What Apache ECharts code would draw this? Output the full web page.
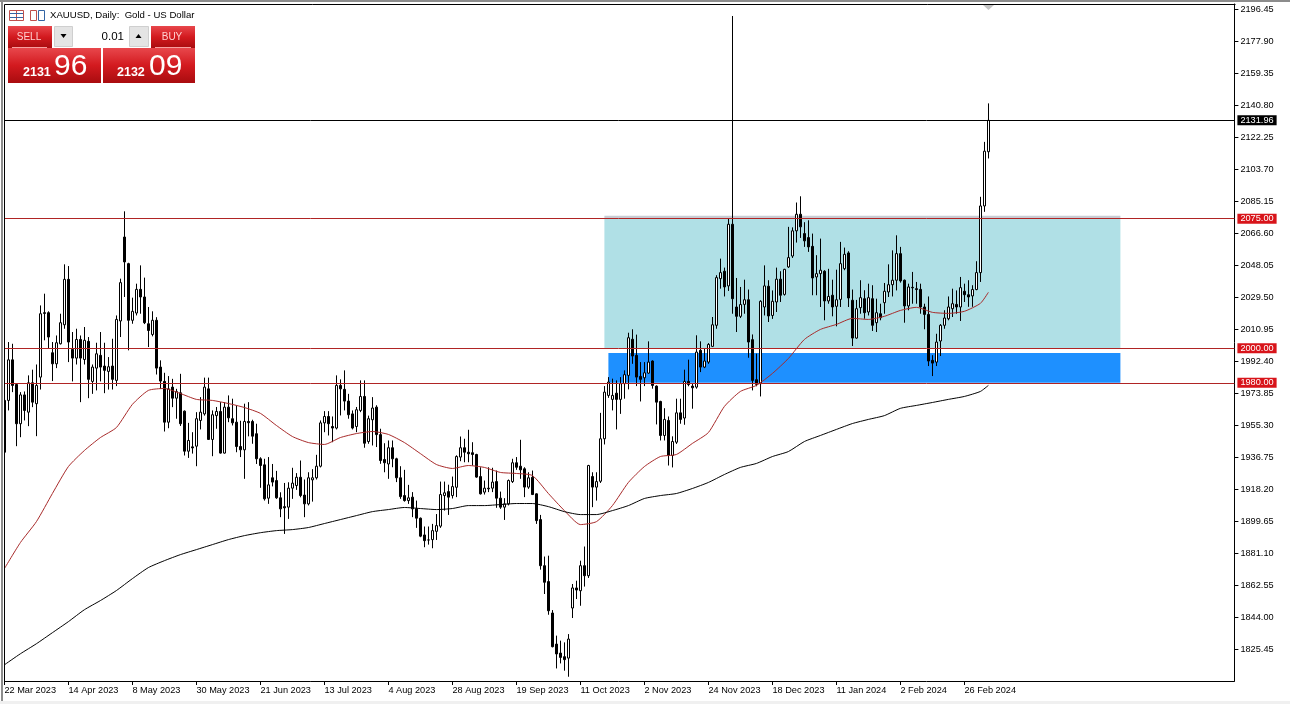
<!DOCTYPE html>
<html>
<head>
<meta charset="utf-8">
<title>XAUUSD Daily</title>
<script src="https://cdn.jsdelivr.net/npm/echarts@6/dist/echarts.min.js"></script>
<style>
  html, body { margin: 0; padding: 0; background: #fff; }
  #chart { width: 1290px; height: 704px; }
</style>
</head>
<body>
<div id="chart"></div>
<script>
// bar values, one entry per daily bar
const opens = [
  1969.8, 1969.8, 1993.3, 1979, 1956.3, 1973, 1963, 1980, 1967.9, 1983.3,
  2020.6, 2020.6, 1997.4, 1991, 2002.6, 2013.6, 2039.9, 1999.3, 1994.3, 2005.1,
  1993.5, 2004, 1980.8, 1988.5, 1995.9, 1989.7, 1986.6, 1989.7, 1981.4, 2015.8,
  2064.4, 2049, 2016.2, 2020.4, 2034.1, 2029.7, 2014.2, 2008, 2016.2, 1989.1,
  1980.8, 1957.2, 1977.5, 1971.1, 1974.2, 1963.6, 1940.4, 1942.9, 1943.3, 1958.2,
  1962, 1976.5, 1947.2, 1961, 1963.4, 1939.3, 1965.9, 1959.2, 1957.2, 1943.1,
  1941.2, 1957.6, 1957.6, 1950.5, 1936, 1932.5, 1913.2, 1925, 1923.4, 1913.4,
  1908.3, 1908, 1919, 1920.5, 1925.3, 1915, 1909.9, 1923.8, 1925, 1931.7,
  1956.8, 1960.5, 1954.7, 1953.8, 1978.5, 1976.2, 1969.4, 1962, 1954.7, 1964,
  1972.1, 1946, 1958.6, 1965.9, 1950, 1935.6, 1933, 1942.4, 1936, 1925,
  1914.7, 1911.8, 1913.8, 1907, 1901.6, 1891.9, 1889, 1889.2, 1894, 1897,
  1914.7, 1917, 1914.7, 1919.5, 1937, 1942.4, 1939.8, 1939.5, 1938.5, 1925.7,
  1916.7, 1919, 1919, 1922.8, 1913.2, 1908, 1909.9, 1922.8, 1933.7, 1931.7,
  1930.2, 1919.6, 1925.3, 1915.7, 1900.8, 1874.1, 1864.9, 1846.7, 1828.7, 1823.5,
  1821.4, 1820.6, 1849.6, 1861.2, 1859.6, 1874.1, 1868.3, 1925.7, 1919.6, 1923,
  1947.6, 1972.7, 1970.4, 1974, 1970.4, 1979.5, 1984.3, 2005.2, 1995.9, 1983.7,
  1982.9, 1985.6, 1992.6, 1978.1, 1969.2, 1949.5, 1958.2, 1937.9, 1945.6, 1962.6,
  1959.6, 1980.8, 1978.1, 1977.5, 1998.8, 1989.1, 1992, 2001.1, 2013.3, 2040.3,
  2044.6, 2036.1, 2071.8, 2023.9, 2018.5, 2025.4, 2028.1, 2005, 1981.8, 1979.5,
  2023.9, 2035.9, 2019, 2026.8, 2040, 2031.2, 2047.1, 2053.4, 2068, 2077.6,
  2066.4, 2064.1, 2059, 2041.3, 2043.2, 2044.6, 2027.4, 2030.7, 2024.3, 2028.3,
  2046.1, 2055.2, 2027.8, 2005.9, 2023.5, 2028.7, 2021, 2028.7, 2014.8, 2020,
  2026.4, 2032.6, 2036.8, 2039.4, 2054.8, 2039.4, 2024.5, 2035.3, 2034.5, 2034.1,
  2023.9, 2019.6, 1993, 1992, 2004.2, 2013.3, 2017.1, 2022.9, 2025.4, 2023.9,
  2033, 2031, 2030.3, 2034, 2043.8, 2082.4, 2113.8
];
const closes = [
  1939.8, 1993.3, 1978.5, 1956.3, 1973, 1964, 1980, 1968.8, 1978.5, 2020,
  2020.2, 2006.5, 1991, 2003.2, 2014.8, 2039.9, 2003.6, 1994.3, 2005.1, 1994.3,
  2004.6, 1982, 1989.1, 1996.8, 1989.1, 1987.2, 1989.3, 1982, 2016.7, 2038,
  2050, 2016.2, 2021.4, 2034.1, 2029.7, 2014.8, 2010.3, 2016.2, 1988.5, 1981,
  1957.2, 1976.5, 1971.1, 1974.9, 1956.3, 1940.4, 1946.6, 1942.3, 1959.2, 1963,
  1977.5, 1947.2, 1961.5, 1963.4, 1939.3, 1965.9, 1959.7, 1956.8, 1943.1, 1941.2,
  1957.6, 1956.9, 1949.1, 1936, 1932.1, 1912.8, 1920.9, 1922.5, 1913.4, 1907,
  1907.6, 1919, 1921.9, 1925.3, 1914.7, 1909.9, 1925, 1925, 1931.7, 1956.8,
  1960.5, 1956.3, 1953.8, 1978.5, 1976.5, 1969.4, 1961.5, 1953.8, 1964.4, 1972.1,
  1945, 1959.2, 1965.4, 1950, 1935, 1933.7, 1942.4, 1936, 1925, 1914.1,
  1911.8, 1913.4, 1907, 1901.6, 1891.2, 1888.6, 1889, 1894.4, 1897.3, 1915.3,
  1916.3, 1913.8, 1919.9, 1937.3, 1942.4, 1939.8, 1938.9, 1938.5, 1925.4, 1915.7,
  1919, 1918.6, 1922.5, 1913.2, 1908, 1909.9, 1923.4, 1933.7, 1931.1, 1929.6,
  1919.6, 1925, 1915.3, 1900.2, 1874.1, 1864.5, 1848, 1827.2, 1823, 1821,
  1819.7, 1831.6, 1861.2, 1860, 1874.1, 1868.3, 1932.1, 1919.6, 1922.8, 1947.6,
  1974.6, 1980.4, 1972.7, 1970.4, 1979.5, 1984.7, 2006.1, 1995.5, 1983.3, 1982,
  1985.8, 1992, 1978.5, 1968.8, 1949.5, 1958.8, 1937.9, 1946, 1962.6, 1958.8,
  1980.8, 1979, 1977.1, 1997.8, 1989.1, 1992.6, 2002.2, 2013.6, 2040.9, 2043.8,
  2035.5, 2071.8, 2028.7, 2018.5, 2025.3, 2028.1, 2003.6, 1981.4, 1979.1, 2027.2,
  2036.1, 2018.7, 2027.2, 2040, 2030.7, 2045.7, 2052.5, 2068, 2077.6, 2070.3,
  2062.2, 2058.7, 2040.7, 2043.2, 2045.2, 2027.4, 2030, 2023.9, 2028.1, 2049,
  2054.4, 2029.1, 2005.9, 2022.9, 2029.3, 2020.6, 2029.3, 2013.3, 2020.6, 2017.7,
  2033, 2036.8, 2039.4, 2054.8, 2039, 2024.5, 2035.5, 2035, 2034, 2023.9,
  2019.6, 1992.6, 1991.4, 2003.6, 2013.3, 2017.5, 2023.9, 2025.8, 2023.9, 2035.1,
  2031, 2029.7, 2034, 2043.8, 2082.4, 2114.1, 2131.96
];
const lows = [
  1939, 1964, 1974.6, 1943.3, 1948.5, 1958.2, 1954.9, 1965.9, 1949.1, 1976.1,
  2004.6, 1999.7, 1981, 1988.5, 2002.2, 2011.3, 1992, 1980.8, 1990.6, 1968.8,
  1990.6, 1971.1, 1973.6, 1975.6, 1980.8, 1974, 1976.1, 1976.1, 1978.1, 2006.5,
  2029.7, 1998.8, 2014.2, 2019, 2020, 2014, 2000.7, 2006.9, 1984.8, 1976.5,
  1951.8, 1953.7, 1965.9, 1959.2, 1955, 1937.9, 1936.5, 1939, 1931.7, 1953,
  1961, 1947, 1937.5, 1953.4, 1939, 1939, 1957.2, 1955.3, 1939.8, 1937,
  1924.4, 1949, 1944.7, 1933, 1919.2, 1911.8, 1909.9, 1920, 1912.8, 1902.2,
  1892.5, 1901.2, 1912.8, 1918, 1913.7, 1902.2, 1909, 1911.2, 1924, 1931,
  1951.4, 1949.5, 1945.6, 1953, 1961.1, 1964, 1959.2, 1953, 1951.4, 1963,
  1942.4, 1944.7, 1943.7, 1942.8, 1933.1, 1928.2, 1924.4, 1931.1, 1922.5, 1912.8,
  1911.2, 1909.9, 1902.2, 1896, 1890.6, 1884.8, 1886.3, 1884.2, 1889, 1896,
  1906, 1903.5, 1913, 1913.8, 1934.6, 1934, 1934, 1932.1, 1925, 1915.3,
  1915.3, 1916.7, 1916.7, 1907.6, 1907, 1900.6, 1909, 1922, 1929.6, 1924.4,
  1913.8, 1918.6, 1915, 1898.3, 1871.8, 1857.7, 1845.7, 1826.8, 1814.6, 1817.5,
  1813.3, 1809.8, 1843.8, 1854.8, 1850.9, 1862, 1867, 1908, 1911.8, 1922,
  1944.3, 1971.3, 1964, 1953, 1962, 1970.8, 1976.2, 1991, 1978.1, 1969.2,
  1978.1, 1985.2, 1976.6, 1955.9, 1946.6, 1946.6, 1932.1, 1931, 1944.6, 1956.3,
  1955.7, 1978, 1965, 1976.6, 1986.2, 1988.5, 1991, 2000.7, 2011.3, 2034.5,
  2030, 2033.2, 2020, 2009.4, 2017.5, 2020, 1994.5, 1975.6, 1978, 1972.1,
  2019, 2015.2, 2017, 2021, 2026.8, 2030.5, 2046.5, 2052.3, 2061.2, 2063.9,
  2058.7, 2055.8, 2030.7, 2030.7, 2023.9, 2016.2, 2025.8, 2018.5, 2012.7, 2023.9,
  2045.2, 2023.9, 2001.3, 2005.5, 2020, 2017.1, 2019, 2010, 2009.4, 2016.2,
  2020, 2029.7, 2030, 2033.5, 2038, 2014.8, 2022, 2025.8, 2025.8, 2020,
  2011, 1989.7, 1983.9, 1989.7, 1995.5, 2011.3, 2016.2, 2018.1, 2020, 2015.8,
  2026.8, 2024, 2024, 2033.6, 2038.4, 2079, 2109.9
];
const highs = [
  1971, 2003.6, 2002.6, 1979.5, 1974.6, 1975, 1984.3, 1987.6, 1990.6, 2024.8,
  2031.6, 2021.4, 2003.6, 2007.4, 2020, 2048.6, 2047.6, 2009.4, 2011.3, 2007.4,
  2012.3, 2006.5, 1990.6, 2003.2, 2009.4, 2003.2, 1994.9, 2005.5, 2019, 2040.3,
  2079.3, 2049.5, 2029.3, 2037.4, 2048, 2040.9, 2023.9, 2021.4, 2018, 1993,
  1985.8, 1983.9, 1982.3, 1976.5, 1985.2, 1964, 1956.8, 1951.4, 1963, 1971.7,
  1983, 1983, 1964, 1966, 1968.8, 1968.8, 1972.7, 1970.8, 1966.9, 1958,
  1967.9, 1968.8, 1958.6, 1956.3, 1936.9, 1936, 1937, 1933, 1929, 1916.6,
  1922, 1922.4, 1930.8, 1927.7, 1935, 1924, 1928.2, 1930, 1938.3, 1958.2,
  1963.6, 1963.6, 1960.5, 1984.3, 1982, 1987.2, 1973.6, 1964, 1966, 1981.4,
  1981.4, 1961, 1971.7, 1967, 1953.4, 1945, 1946.6, 1946.6, 1936.6, 1931.7,
  1929.6, 1920.9, 1916.7, 1911.8, 1902, 1896.8, 1896.8, 1898.3, 1904, 1922.8,
  1922.8, 1921, 1925.7, 1938, 1948.9, 1947.6, 1952.8, 1945.6, 1938.9, 1931.1,
  1923.4, 1931.1, 1930.8, 1929.2, 1917, 1913.2, 1924, 1936, 1937, 1947,
  1931.1, 1928.2, 1929.2, 1916, 1903.5, 1879.4, 1879.9, 1848.4, 1833.6, 1830.7,
  1829.7, 1834.5, 1863.5, 1865.4, 1877, 1885.2, 1932.5, 1928.2, 1928.2, 1962.6,
  1978.1, 1983.3, 1982.4, 1981.4, 1983.3, 1987.2, 2009, 2011, 2007.9, 1992,
  1992, 2004, 1993, 1978.5, 1969.6, 1965.3, 1960.5, 1949, 1970.8, 1970.8,
  1987.6, 1993.4, 1979.5, 2007.5, 2004, 2000, 2003, 2018.1, 2042.3, 2051.9,
  2046.7, 2075.1, 2192.4, 2040.7, 2035.5, 2039.7, 2034, 2008, 1996.9, 2027.8,
  2048, 2039.4, 2033.5, 2046.7, 2044.6, 2046, 2070.3, 2070, 2084.4, 2088,
  2073, 2074.1, 2066.4, 2053.9, 2063.5, 2045.2, 2046, 2039.7, 2045.5, 2061.6,
  2058.3, 2056.2, 2034, 2028, 2039.4, 2033.6, 2037.4, 2036.5, 2028.7, 2025.8,
  2037.8, 2048.6, 2056.7, 2065.4, 2058.7, 2039.8, 2037.4, 2044.2, 2038.4, 2037.4,
  2025.8, 2030, 1996, 2008.4, 2014, 2022, 2030, 2034.5, 2033.5, 2041.3,
  2037.4, 2039.4, 2036.5, 2050.4, 2087.7, 2119.5, 2141.8
];
// moving averages (last one is the final bar)
const ma50 = [
  1872.4, 1887.5, 1899.6, 1915.9, 1931.5, 1940.8, 1948.3, 1954.1, 1967.5, 1975.6, 1976.7, 1973.8, 1970.4,
  1969.8, 1968, 1965.7, 1962.3, 1955.3, 1948.9, 1945.4, 1944.3, 1948.3, 1950.6, 1951.8, 1950.1,
  1945.4, 1939, 1932.7, 1930.4, 1932.1, 1931, 1928.1, 1927.5, 1926.3, 1915.9, 1906, 1897.9,
  1899.6, 1908.9, 1922.3, 1931.5, 1937.3, 1938.5, 1944.9, 1951.2, 1966.3, 1975, 1978.5,
  1985.4, 1994.1, 2005.1, 2010.9, 2013.8, 2017.3,
  2016.7, 2018.5, 2021.9, 2023.7, 2020.8, 2020.2, 2021.4, 2026, 2032.4
];
const ma200 = [
  1816.7, 1823.1, 1828.9, 1835.3, 1841.7, 1848.6, 1853.9, 1859.7, 1866.6, 1873, 1877, 1880.5, 1883.4,
  1886.3, 1889.2, 1891.5, 1893.2, 1894.4, 1895, 1896.2, 1898.5, 1900.8, 1903.1, 1905.4, 1906.6,
  1907.8, 1907.2, 1906.6, 1907.2, 1908.9, 1908.9, 1909.5, 1910.1, 1910.1, 1908.3, 1905.4, 1903.7,
  1903.7, 1906, 1908.9, 1913, 1914.7, 1915.9, 1918.8, 1922.3, 1926.9, 1931, 1933.3,
  1937.3, 1940.2, 1946, 1949.5, 1953, 1956.4,
  1958.8, 1961, 1965.2, 1966.9, 1968.6, 1970.4, 1972.1, 1975, 1978.5
];
const dateLabels = [
  "22 Mar 2023", "14 Apr 2023", "8 May 2023", "30 May 2023", "21 Jun 2023", "13 Jul 2023",
  "4 Aug 2023", "28 Aug 2023", "19 Sep 2023", "11 Oct 2023", "2 Nov 2023", "24 Nov 2023",
  "18 Dec 2023", "11 Jan 2024", "2 Feb 2024", "26 Feb 2024"
];
const priceTicks = [
  1825.45, 1844.0, 1862.55, 1881.1, 1899.65, 1918.2, 1936.75, 1955.3, 1973.85, 1992.4, 2010.95,
  2029.5, 2048.05, 2066.6, 2085.15, 2103.7, 2122.25, 2140.8, 2159.35, 2177.9, 2196.45
];
const levels = [2075, 2000, 1980];
const lastPrice = 2131.96;
// zones on the chart, bar index and price
const zoneUpper = { from: 150, to: 279, low: 2000, high: 2075, top: 2076.8 };
const zoneLower = { from: 151, to: 279, low: 1980, high: 1997.2 };

const BARS_ON_AXIS = 308;
const TICK_STEP = 16;

const categories = [];
for (let i = 0; i < BARS_ON_AXIS; i++) {
  categories.push(i % TICK_STEP === 0 && dateLabels[i / TICK_STEP] ? dateLabels[i / TICK_STEP] : "");
}
const candles = opens.map((o, i) => [o, closes[i], lows[i], highs[i]]);
const maPoints = (values) => values.map((v, k) => [k === values.length - 1 ? opens.length - 1 : k * 4, v]);
const hasDate = (index, value) => value !== "";

const FONT = "Liberation Sans";
const chart = echarts.init(document.getElementById("chart"));

function redBox(x, y, w, h) {
  return {
    type: "rect",
    shape: { x, y, width: w, height: h },
    style: {
      fill: new echarts.graphic.LinearGradient(0, 0, 0, 1, [
        { offset: 0, color: "#e8474c" },
        { offset: 0.5, color: "#d31a1f" },
        { offset: 1, color: "#a90c0f" },
      ]),
    },
    z: 20,
  };
}
function label(text, x, y, size, color, extra) {
  return {
    type: "text",
    x,
    y,
    z: 21,
    style: Object.assign({ text, fill: color, font: size + "px " + FONT, textVerticalAlign: "middle" }, extra || {}),
  };
}
function line(x1, y1, x2, y2, color) {
  return { type: "line", shape: { x1, y1, x2, y2 }, style: { stroke: color, lineWidth: 1 }, z: 20 };
}
function button(x, w) {
  return {
    type: "rect",
    shape: { x: x + 0.5, y: 26.5, width: w, height: 20 },
    style: { fill: "#e4e4e4", stroke: "#cfcfcf", lineWidth: 1 },
    z: 20,
  };
}

const option = {
  animation: false,
  backgroundColor: "#fff",
  grid: { left: 2.4, right: 55.6, top: 4, bottom: 23 },
  xAxis: {
    type: "category",
    data: categories,
    axisLine: { show: true, lineStyle: { color: "#000", width: 1 } },
    axisTick: { show: true, interval: hasDate, alignWithLabel: true, length: 4, lineStyle: { color: "#000" } },
    axisLabel: {
      interval: hasDate,
      align: "left",
      margin: 5,
      color: "#000",
      fontFamily: FONT,
      fontSize: 9.2,
    },
    splitLine: { show: false },
  },
  yAxis: {
    type: "value",
    position: "right",
    min: 1807.33,
    max: 2199.345,
    axisLine: { show: true, lineStyle: { color: "#000", width: 1 } },
    axisTick: { show: true, customValues: priceTicks, length: 4, lineStyle: { color: "#000" } },
    axisLabel: {
      customValues: priceTicks,
      margin: 6,
      color: "#000",
      fontFamily: FONT,
      fontSize: 9.2,
      formatter: (v) => v.toFixed(2),
    },
    splitLine: { show: false },
  },
  series: [
    {
      type: "candlestick",
      data: candles,
      barWidth: 3,
      z: 2,
      itemStyle: { color: "#fff", color0: "#000", borderColor: "#000", borderColor0: "#000", borderWidth: 1 },
      markArea: {
        silent: true,
        label: { show: false },
        data: [
          [
            { xAxis: zoneUpper.from, yAxis: zoneUpper.high, itemStyle: { color: "#c8ccd4" } },
            { xAxis: zoneUpper.to, yAxis: zoneUpper.top },
          ],
          [
            { xAxis: zoneUpper.from, yAxis: zoneUpper.low, itemStyle: { color: "#b0e0e6" } },
            { xAxis: zoneUpper.to, yAxis: zoneUpper.high },
          ],
          [
            { xAxis: zoneLower.from, yAxis: zoneLower.low, itemStyle: { color: "#1e90ff" } },
            { xAxis: zoneLower.to, yAxis: zoneLower.high },
          ],
        ],
      },
      markLine: {
        silent: true,
        symbol: "none",
        animation: false,
        data: levels
          .map((v) => ({
            yAxis: v,
            lineStyle: { color: "#b02424", width: 1, type: "solid" },
            label: { backgroundColor: "#d8141a", color: "#fff" },
          }))
          .concat([
            {
              yAxis: lastPrice,
              lineStyle: { color: "#000", width: 1, type: "solid" },
              label: { backgroundColor: "#000", color: "#fff" },
            },
          ]),
        label: {
          show: true,
          position: "end",
          distance: 3,
          padding: [1, 3, 0, 3],
          fontFamily: FONT,
          fontSize: 9.2,
          formatter: (p) => p.value.toFixed(2),
        },
      },
    },
    {
      type: "line",
      data: maPoints(ma50),
      showSymbol: false,
      smooth: 0.2,
      z: 3,
      lineStyle: { color: "#a82a2a", width: 1 },
    },
    {
      type: "line",
      data: maPoints(ma200),
      showSymbol: false,
      smooth: 0.2,
      z: 3,
      lineStyle: { color: "#000", width: 1 },
    },
  ],
  graphic: [
    // window frame
    { type: "rect", shape: { x: 0, y: 0, width: 4, height: 704 }, style: { fill: "#fff" }, z: 18 },
    { type: "rect", shape: { x: 1, y: 0, width: 2, height: 704 }, style: { fill: "#8c8c8c" }, z: 19 },
    { type: "rect", shape: { x: 0, y: 0, width: 1290, height: 2 }, style: { fill: "#8c8c8c" }, z: 19 },
    { type: "rect", shape: { x: 0, y: 701, width: 1290, height: 3 }, style: { fill: "#f0f0f0" }, z: 19 },
    line(4.5, 4.5, 1235.5, 4.5, "#000"),
    line(4.5, 4.5, 4.5, 681.5, "#000"),
    { type: "polygon", shape: { points: [[983, 5], [994, 5], [988.5, 10]] }, style: { fill: "#c4c4c4" }, z: 20 },
    // symbol title and icons
    { type: "rect", shape: { x: 9.5, y: 10.5, width: 14, height: 10 }, style: { fill: "#fff", stroke: "#c0504d", lineWidth: 1 }, z: 20 },
    line(16.5, 10.5, 16.5, 20.5, "#c0504d"),
    line(10, 13.5, 23, 13.5, "#3465a4"),
    line(10, 17.5, 23, 17.5, "#3465a4"),
    { type: "rect", shape: { x: 30.5, y: 10.5, width: 6, height: 10 }, style: { fill: "#fff", stroke: "#c0504d", lineWidth: 1 }, z: 20 },
    { type: "rect", shape: { x: 38.5, y: 10.5, width: 6, height: 10 }, style: { fill: "#fff", stroke: "#3465a4", lineWidth: 1 }, z: 20 },
    label("XAUUSD, Daily:  Gold - US Dollar", 50, 15.5, 9.6, "#000"),
    // one click trading panel
    redBox(8, 26, 44, 22),
    redBox(151, 26, 44, 22),
    redBox(8, 48, 93, 35),
    redBox(103, 48, 92, 35),
    line(12, 47.5, 47, 47.5, "#f7a0a0"),
    line(155, 47.5, 191, 47.5, "#f7a0a0"),
    label("SELL", 29, 37, 10, "#ffd0d0", { textAlign: "center" }),
    label("BUY", 172, 37, 10, "#ffd0d0", { textAlign: "center" }),
    button(54, 18),
    { type: "rect", shape: { x: 73, y: 26, width: 56, height: 21 }, style: { fill: "#fff" }, z: 20 },
    button(129, 19),
    { type: "polygon", shape: { points: [[60.5, 34], [66.5, 34], [63.5, 38]] }, style: { fill: "#000" }, z: 21 },
    { type: "polygon", shape: { points: [[135.5, 38], [141.5, 38], [138.5, 34]] }, style: { fill: "#000" }, z: 21 },
    label("0.01", 124, 36.5, 11.5, "#000", { textAlign: "right" }),
    label("2131", 23, 73, 12.5, "#fff", { font: "bold 12.5px " + FONT }),
    label("96", 54, 67, 30, "#fff"),
    label("2132", 117, 73, 12.5, "#fff", { font: "bold 12.5px " + FONT }),
    label("09", 149, 67, 30, "#fff"),
  ],
};
chart.setOption(option);
</script>
</body>
</html>
